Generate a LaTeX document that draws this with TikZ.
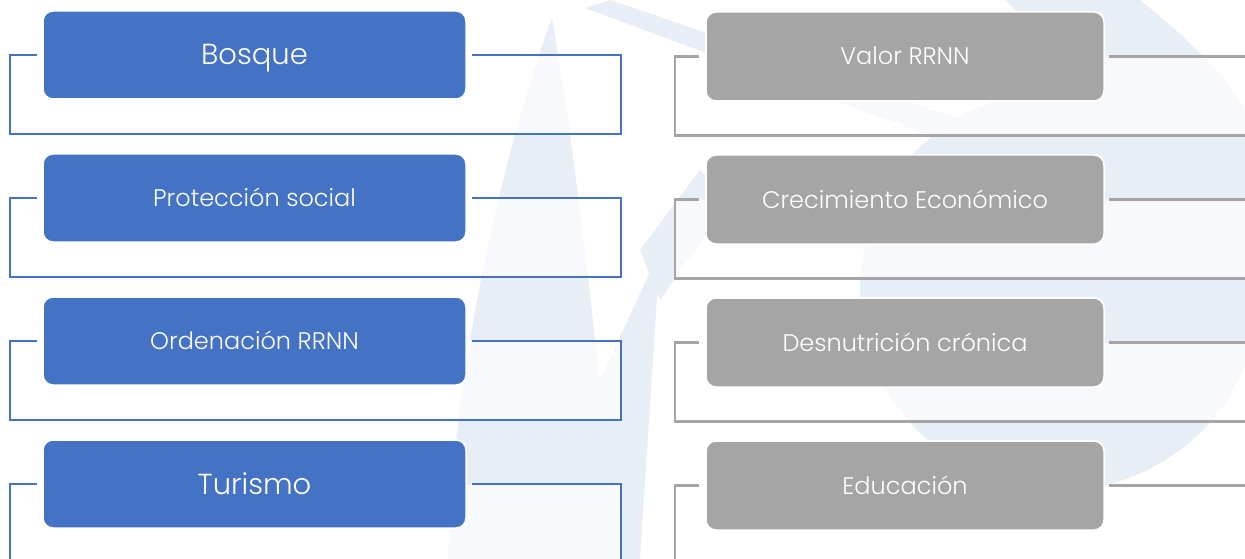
\documentclass[tikz,border=0pt]{standalone}
\usepackage{fontspec}
\setmainfont{Poppins}[UprightFont={* Light}]
\definecolor{boxblue}{HTML}{4472C4}
\definecolor{boxgray}{HTML}{A5A5A5}
\definecolor{wmark}{HTML}{E8EEF6}
\tikzset{
  bluebox/.style={rounded corners=10pt, fill=boxblue, draw=white, line width=1.5pt,
    minimum width=423pt, minimum height=88pt, inner sep=0pt, text=white},
  graybox/.style={rounded corners=10pt, fill=boxgray, draw=white, line width=1.5pt,
    minimum width=398pt, minimum height=89pt, inner sep=0pt, text=white},
  blueline/.style={draw=boxblue, line width=2.2pt},
  grayline/.style={draw=boxgray, line width=2.2pt},
  bigtxt/.style={font=\fontsize{29}{32}\selectfont, text height=20pt, text depth=0pt},
  smalltxt/.style={font=\fontsize{24}{28}\selectfont, text height=17pt, text depth=0pt},
}
\begin{document}
\begin{tikzpicture}[x=1pt,y=-1pt]
\useasboundingbox (0,0) rectangle (1245,559);
\clip (0,0) rectangle (1245,559);
\fill[white] (0,0) rectangle (1245,559);

% faint background emblem
\fill[wmark] (448,559) .. controls (452,380) and (500,160) .. (552,18)
  .. controls (575,150) and (590,300) .. (600,380) -- (660,250) -- (640,559) -- cycle;
\fill[wmark] (585,8) -- (610,0) -- (1110,170) -- (1090,195) -- cycle;
\fill[wmark] (1005,0) -- (1140,0) .. controls (1190,40) and (1230,80) .. (1245,110)
  -- (1245,300) -- (1130,120) -- cycle;
\fill[wmark] (1060,290) circle[radius=200];
\fill[wmark] (640,250) -- (700,170) -- (730,200) -- (660,300) -- cycle;

% left column: blue boxes with their brackets
\foreach \name/\y/\txt/\st in {b1/55/Bosque/bigtxt, b2/198/Protección social/smalltxt,
    b3/341/Ordenación RRNN/smalltxt, b4/484/Turismo/bigtxt} {
  \fill[white, opacity=0.7] (10,\y) rectangle (621,\y+79);
  \node[bluebox, \st] (\name) at (254.5,\y) {\txt};
  \draw[blueline] ([xshift=-5pt]\name.west) -- (10,\y) -- (10,\y+79) -- (621,\y+79)
    -- (621,\y) -- ([xshift=5pt]\name.east);
  \node[bluebox, \st] at (\name) {\txt};
}

% right column: gray boxes with their brackets
\foreach \name/\y/\txt in {g1/56.5/Valor RRNN, g2/199.5/Crecimiento Económico,
    g3/342.5/Desnutrición crónica, g4/485.5/Educación} {
  \fill[white, opacity=0.7] (675,\y) rectangle (1250,\y+79);
  \node[graybox, smalltxt] (\name) at (905,\y) {\txt};
  \draw[grayline] ([xshift=-6pt]\name.west) -- (675,\y) -- (675,\y+79) -- (1250,\y+79)
    -- (1250,\y) -- ([xshift=4pt]\name.east);
  \node[graybox, smalltxt] at (\name) {\txt};
}
\end{tikzpicture}
\end{document}
